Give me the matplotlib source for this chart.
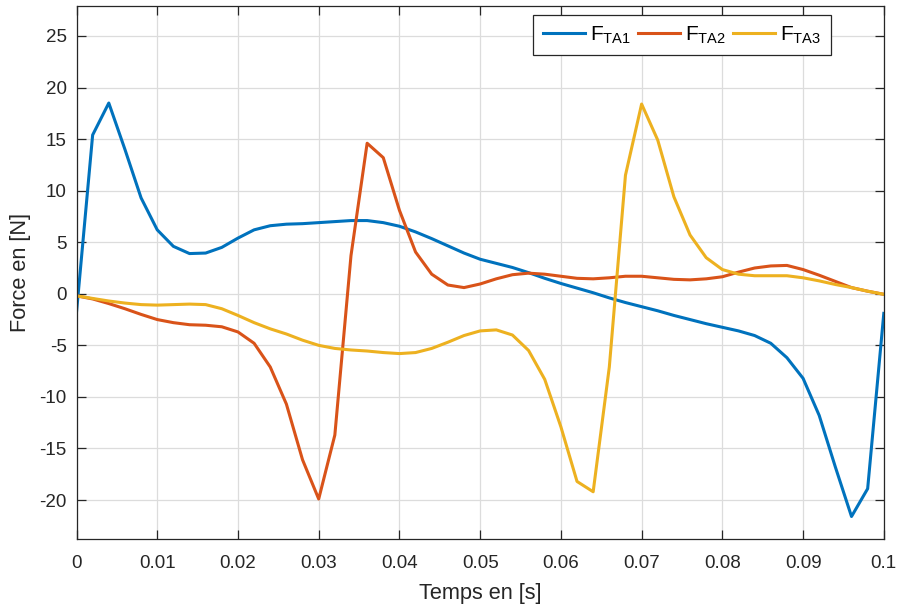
import numpy as np
import matplotlib
matplotlib.use("Agg")
import matplotlib.pyplot as plt
from matplotlib.ticker import FormatStrFormatter, FuncFormatter

# time in ms, sampled every 2 ms
t_ms = [0, 2, 4, 6, 8, 10, 12, 14, 16, 18,
        20, 22, 24, 26, 28, 30, 32, 34, 36, 38,
        40, 42, 44, 46, 48, 50, 52, 54, 56, 58,
        60, 62, 64, 66, 68, 70, 72, 74, 76, 78,
        80, 82, 84, 86, 88, 90, 92, 94, 96, 98, 100]

f_ta1 = [-1.8, 15.4, 18.5, 14.0, 9.3, 6.2, 4.6, 3.9, 3.95, 4.5,
         5.4, 6.2, 6.6, 6.75, 6.8, 6.9, 7.0, 7.1, 7.1, 6.9,
         6.55, 6.0, 5.35, 4.65, 3.95, 3.35, 2.95, 2.55, 2.05, 1.5,
         1.0, 0.55, 0.1, -0.4, -0.85, -1.25, -1.65, -2.1, -2.5, -2.9,
         -3.25, -3.6, -4.05, -4.8, -6.2, -8.2, -11.8, -16.8, -21.6, -18.9, -1.9]

f_ta2 = [-0.2, -0.5, -0.95, -1.45, -2.0, -2.5, -2.8, -3.0, -3.05, -3.2,
         -3.7, -4.8, -7.1, -10.7, -16.1, -19.9, -13.7, 3.7, 14.6, 13.2,
         8.1, 4.05, 1.9, 0.85, 0.6, 0.95, 1.45, 1.85, 2.0, 1.9,
         1.7, 1.5, 1.45, 1.55, 1.7, 1.7, 1.55, 1.4, 1.35, 1.45,
         1.65, 2.1, 2.5, 2.7, 2.75, 2.35, 1.8, 1.2, 0.6, 0.25, -0.05]

f_ta3 = [-0.2, -0.45, -0.7, -0.9, -1.05, -1.1, -1.05, -1.0, -1.05, -1.45,
         -2.1, -2.8, -3.4, -3.9, -4.5, -5.0, -5.3, -5.45, -5.55, -5.7,
         -5.8, -5.7, -5.3, -4.7, -4.05, -3.6, -3.5, -4.0, -5.5, -8.3,
         -12.9, -18.2, -19.2, -7.1, 11.5, 18.4, 14.9, 9.4, 5.7, 3.5,
         2.35, 1.9, 1.75, 1.75, 1.75, 1.55, 1.25, 0.9, 0.6, 0.25, -0.05]

labels = [r'$\mathregular{F_{TA1}}$', r'$\mathregular{F_{TA2}}$', r'$\mathregular{F_{TA3}}$']
colors = ['#0072BD', '#D95319', '#EDB120']

plt.rcParams['font.family'] = ['Liberation Sans', 'DejaVu Sans']
plt.rcParams['mathtext.fontset'] = 'custom'
plt.rcParams['mathtext.rm'] = 'Liberation Sans'

t = np.array(t_ms) / 1000.0
dark = '#262626'

fig = plt.figure(figsize=(9, 6.08), dpi=100)
ax = fig.add_axes([0.085, 0.114, 0.897, 0.876])

for y, lab, c in zip([f_ta1, f_ta2, f_ta3], labels, colors):
    ax.plot(t, y, color=c, lw=2.2, label=lab)

ax.set_xlim(0, 0.1)
ax.set_ylim(-23.75, 27.9)
ax.set_xticks(np.arange(0, 0.1001, 0.01))
ax.set_yticks(np.arange(-20, 26, 5))
ax.xaxis.set_major_formatter(FuncFormatter(lambda v, p: '%g' % round(v, 3)))
ax.yaxis.set_major_formatter(FormatStrFormatter('%g'))

ax.grid(True, color='#dcdcdc', lw=0.9)
ax.set_axisbelow(True)
ax.tick_params(direction='in', length=6.5, width=0.9, top=True, right=True,
               colors=dark, labelsize=13.5)
ax.tick_params(axis='x', pad=12)
ax.tick_params(axis='y', pad=7)
for s in ax.spines.values():
    s.set_color(dark)
    s.set_linewidth(0.9)

ax.set_xlabel('Temps en [s]', fontsize=15.7, color=dark, labelpad=8)
ax.set_ylabel('Force en [N]', fontsize=15.7, color=dark, labelpad=6)

leg = ax.legend(loc='upper right', bbox_to_anchor=(0.934, 0.983), borderaxespad=0,
                ncol=3, fontsize=15, handlelength=2.0, columnspacing=0.35,
                handletextpad=0.25, borderpad=0.45, fancybox=False, framealpha=1)
leg.get_frame().set_edgecolor(dark)
leg.get_frame().set_linewidth(0.9)

plt.savefig('out.png', dpi=100)
